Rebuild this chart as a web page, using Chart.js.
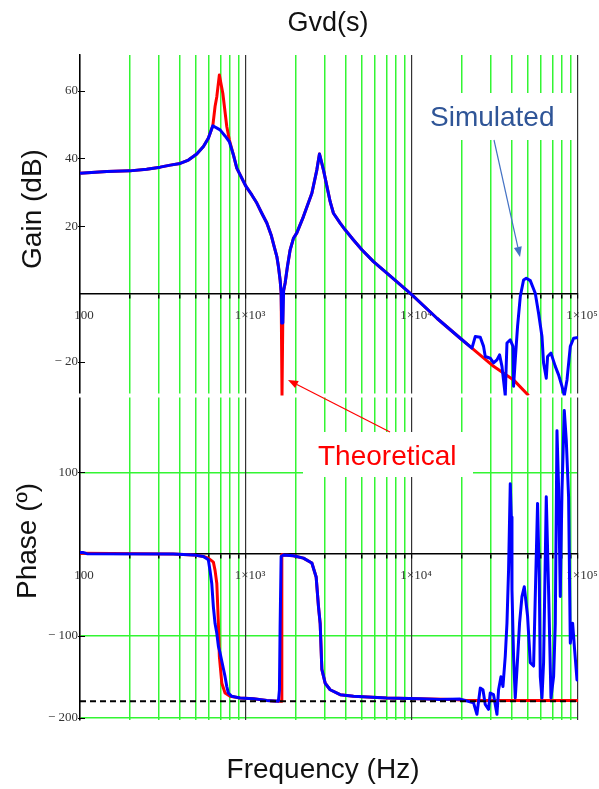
<!DOCTYPE html>
<html><head><meta charset="utf-8">
<script src="https://cdn.jsdelivr.net/npm/chart.js@4.4.1/dist/chart.umd.min.js"></script>
<style>html,body{margin:0;padding:0;background:#fff;overflow:hidden}#wrap{position:absolute;left:0;top:0;width:599px;height:789px}</style>
</head><body><div id="wrap"><canvas id="c" width="599" height="789"></canvas></div>
<script>
// ---- tick definitions ----
const xTicks = [100,200,300,400,500,600,700,800,900,1000,2000,3000,4000,5000,6000,7000,8000,9000,10000,20000,30000,40000,50000,60000,70000,80000,90000,100000];
const xTickLabels = ['100','','','','','','','','','1×10³','','','','','','','','','1×10⁴','','','','','','','','','1×10⁵'];
const gainTicks = [-20,20,40,60];
const phaseTicks = [-200,-100,100];

// ---- Gain, theoretical ----
const theoGainHz = [100,145,200,252,304,350,401,450,505,554,593,631,651,667,691,725,766,794,840,880,1000,1084,1162,1245,1335,1417,1477,1534,1568,1605,1628,1648,1655,1672,1721,1777,1845,1931,2024,2218,2493,2672,2770,2928,3214,3364,3692,3956,4441,4989,5861,7059,8490,10000,14130,19520,22970,30990,40910,50380];
const theoGainDb = [35.6,36.1,36.3,36.8,37.4,38.0,38.5,39.5,41.3,43.5,45.9,49.6,55.3,58.2,64.6,59.2,49.4,45.4,41,37.1,31.7,29.2,26.8,23.8,20.9,17.4,14,11,8.1,4.1,0.3,-30,-30,0,3.2,8.1,13,16.4,18,22.8,29.7,36.6,41.3,36.6,27.2,23.8,20.9,18.9,15.9,13,9.5,6.1,2.7,-0.3,-7.2,-13.1,-16,-21.4,-25.4,-30];

// ---- Gain, simulated ----
const simGainHz = [100,145,200,252,304,350,401,450,505,554,593,631,698,748,794,840,880,1000,1084,1162,1245,1335,1417,1477,1534,1568,1605,1628,1640,1667,1685,1721,1777,1845,1931,2024,2218,2493,2672,2770,2928,3214,3364,3692,3956,4441,4989,5861,7059,8490,10000,14130,19520,22970,24040,25780,26980,27620,29600,30990,32490,33690,34830,36460,37330,39080,40580,40910,41880,43240,44900,46990,48790,51590,55280,57870,60670,62030,64400,65570,68740,72980,76400,80090,82680,85840,89870,94080,100000];
const simGainDb = [35.6,36.1,36.3,36.8,37.4,38.0,38.5,39.5,41.3,43.5,45.9,49.6,48.4,46.6,44.9,41,37.1,31.7,29.2,26.8,23.8,20.9,17.4,14,11,8.1,4.1,0.5,-8.6,-8.6,1,3.2,8.1,13,16.4,18,22.8,29.7,36.6,41.3,36.6,27.2,23.8,20.9,18.9,15.9,13,9.5,6.1,2.7,-0.3,-7.2,-13.1,-16,-12.6,-12.8,-15.5,-18.5,-19,-20.4,-19.5,-18,-21.4,-30,-14.5,-13.6,-15.5,-27.3,-19.5,-9.6,-0.8,4.1,4.6,3.9,0.2,-5.7,-12.6,-20.4,-24.9,-18.5,-17.5,-21.4,-23.9,-27.3,-30,-25.4,-15.5,-13.1,-12.9];

// ---- Phase, theoretical ----
const theoPhaseHz = [100,365,482,554,593,636,651,667,682,691,715,748,802,921,1108,1335,1568,1640,1644,1681,1931,2218,2493,2646,2732,2798,2864,2999,3214,3692,4441,7059,11210,17790,21420,100000];
const theoPhaseDeg = [1,0,-1,-3,-5,-9.8,-20,-36,-85,-125,-158,-170,-174,-176,-177,-179,-180,-180,-0.5,-1,-2,-5,-11,-28,-64,-85,-141,-158,-166,-172,-174,-176,-177,-178,-179,-179];

// ---- Phase, simulated ----
const simPhaseHz = [100,104,110,365,482,554,593,607,622,636,651,667,682,698,725,748,766,783,821,921,1108,1335,1568,1590,1605,1628,1681,1931,2218,2493,2646,2732,2798,2864,2999,3214,3692,4441,7059,11210,14790,19520,23480,24610,25780,26760,27620,28910,29600,30990,32490,33230,34350,35310,36460,37330,38170,39080,39630,40020,40910,41880,42890,44460,45960,47460,49680,51590,54010,55280,57070,58430,59260,60670,62030,64400,66490,68740,71290,72980,74700,76400,78200,80090,82680,85000,87760,89870,92800,95400,98630,100000];
const simPhaseDeg = [2,2,0.5,0,-1,-3,-7,-20,-36,-64.6,-85,-97,-113,-121,-137,-150,-162,-170,-174,-176,-177,-179,-180,-166,-89,-3,-1,-2,-5,-11,-28,-64,-85,-141,-158,-166,-172,-174,-176,-177,-178,-177.4,-182,-196,-164,-166,-184,-190,-170,-172,-196,-166,-150,-162,-125,-84.5,-19.5,86,45.5,-44,-125,-176,-141,-84.5,-52,-40,-76,-133,-137,-52,62,-28,-150,-176,-133,70,-44,-176,-150,-85,151,82,-52,78,175.6,139,70,-109,-84.5,-117,-154,-141];

// ---- reference line ----
const refHz = [100,100000];
const refDeg = [-180,-180];

const pts = (xs, ys) => xs.map((x, i) => ({x: x, y: ys[i]}));
const GREEN = '#33f533';
const SERIF = "'Liberation Serif','Times New Roman',serif";
const SANS = "'Liberation Sans',Arial,sans-serif";

function arrow(ctx, x1, y1, x2, y2, color) {
  const a = Math.atan2(y2 - y1, x2 - x1);
  const L = 10, W = 4;
  ctx.save();
  ctx.strokeStyle = color; ctx.fillStyle = color; ctx.lineWidth = 1.2;
  ctx.beginPath(); ctx.moveTo(x1, y1);
  ctx.lineTo(x2 - L * Math.cos(a), y2 - L * Math.sin(a)); ctx.stroke();
  ctx.beginPath();
  ctx.moveTo(x2, y2);
  ctx.lineTo(x2 - L * Math.cos(a) + W * Math.sin(a), y2 - L * Math.sin(a) - W * Math.cos(a));
  ctx.lineTo(x2 - L * Math.cos(a) - W * Math.sin(a), y2 - L * Math.sin(a) + W * Math.cos(a));
  ctx.closePath(); ctx.fill();
  ctx.restore();
}

const decor = {
  id: 'decor',
  beforeDatasetsDraw(chart) {
    const ctx = chart.ctx, ca = chart.chartArea;
    ctx.save();
    ctx.fillStyle = '#fff';
    // gap between the two panels
    const yb = chart.scales.y.bottom;
    ctx.fillRect(ca.left - 6, yb - 2, ca.right - ca.left + 12, 4);
    // annotation boxes
    ctx.fillRect(416, 93, 158, 47);
    ctx.fillRect(303, 432, 170, 45);
    // small y tick marks
    ctx.strokeStyle = '#000'; ctx.lineWidth = 1;
    for (const id of ['y', 'y2']) {
      const s = chart.scales[id];
      s.ticks.forEach(t => {
        const py = Math.round(s.getPixelForValue(t.value)) + 0.5;
        ctx.beginPath(); ctx.moveTo(ca.left - 2, py); ctx.lineTo(ca.left + 5, py); ctx.stroke();
      });
    }
    ctx.restore();
  },
  afterDatasetsDraw(chart) {
    const ctx = chart.ctx;
    ctx.save();
    ctx.textBaseline = 'alphabetic';
    ctx.font = '28px ' + SANS;
    ctx.fillStyle = '#2f5597';
    ctx.textAlign = 'left';
    ctx.fillText('Simulated', 430, 126);
    ctx.fillStyle = '#ff0000';
    ctx.fillText('Theoretical', 318, 465);
    arrow(ctx, 494, 140, 520, 257, '#4472c4');
    arrow(ctx, 390, 432, 288, 380, '#ff0000');
    // titles
    ctx.fillStyle = '#111';
    ctx.textAlign = 'center';
    ctx.font = '27px ' + SANS;
    ctx.fillText('Gvd(s)', 328, 31);
    ctx.font = '28px ' + SANS;
    ctx.fillText('Frequency (Hz)', 323, 778);
    ctx.textBaseline = 'middle';
    ctx.save(); ctx.translate(33, 209); ctx.rotate(-Math.PI / 2); ctx.fillText('Gain (dB)', 0, 0); ctx.restore();
    ctx.save(); ctx.translate(28, 541); ctx.rotate(-Math.PI / 2); ctx.fillText('Phase (º)', 0, 0); ctx.restore();
    ctx.restore();
  }
};

const xCommon = (posId, onArea) => ({
  type: 'logarithmic', min: 100, max: 100000,
  position: {[posId]: 0},
  afterBuildTicks: s => { s.ticks = xTicks.map(v => ({value: v})); },
  afterFit: s => { s.paddingLeft = 0; s.paddingRight = 0; },
  ticks: { autoSkip: false, maxRotation: 0, minRotation: 0, padding: 10, labelOffset: 4,
    color: '#333', font: {family: SERIF, size: 13},
    callback: (v, i) => xTickLabels[i] },
  grid: { drawOnChartArea: onArea, drawTicks: true, tickLength: 4, tickColor: '#000',
    lineWidth: c => (xTickLabels[c.index] ? 1.2 : 1.5),
    color: c => (xTickLabels[c.index] ? '#333' : GREEN) },
  border: { display: true, color: '#000', width: 1.5 }
});

const yCommon = (ticksArr, min, max, weight, gridOn) => ({
  type: 'linear', position: 'left', stack: 'bode', stackWeight: weight,
  min: min, max: max,
  afterBuildTicks: s => { s.ticks = ticksArr.map(v => ({value: v})); },
  afterFit: s => { s.width = 80; },
  ticks: { padding: 2, color: '#333', font: {family: SERIF, size: 13},
    callback: v => (v < 0 ? '− ' + Math.abs(v) : String(v)) },
  grid: { display: gridOn, drawTicks: false, color: GREEN, lineWidth: 1.5 },
  border: { display: true, color: '#000', width: 1.5 }
});

new Chart(document.getElementById('c'), {
  type: 'line',
  data: {
    datasets: [
      {label: 'ref', data: pts(refHz, refDeg), xAxisID: 'x2', yAxisID: 'y2', borderColor: '#000', borderWidth: 2, borderDash: [6, 4], pointRadius: 0, order: 0},
      {label: 'Simulated gain', data: pts(simGainHz, simGainDb), xAxisID: 'x', yAxisID: 'y', borderColor: '#0000ff', borderWidth: 3, pointRadius: 0, order: 1},
      {label: 'Simulated phase', data: pts(simPhaseHz, simPhaseDeg), xAxisID: 'x2', yAxisID: 'y2', borderColor: '#0000ff', borderWidth: 3, pointRadius: 0, order: 1},
      {label: 'Theoretical gain', data: pts(theoGainHz, theoGainDb), xAxisID: 'x', yAxisID: 'y', borderColor: '#ff0000', borderWidth: 3, pointRadius: 0, order: 2},
      {label: 'Theoretical phase', data: pts(theoPhaseHz, theoPhaseDeg), xAxisID: 'x2', yAxisID: 'y2', borderColor: '#ff0000', borderWidth: 3, pointRadius: 0, order: 2}
    ]
  },
  options: {
    responsive: false, devicePixelRatio: 1, animation: false,
    layout: { padding: {left: 0, right: 21, top: 55, bottom: 69} },
    plugins: { legend: {display: false}, tooltip: {enabled: false}, title: {display: false} },
    elements: { line: {tension: 0, borderJoinStyle: 'round'} },
    scales: {
      y2: yCommon(phaseTicks, -203, 194, 324.5, true),
      y: yCommon(gainTicks, -30, 70.5, 340.5, false),
      x: xCommon('y', true),
      x2: xCommon('y2', false)
    }
  },
  plugins: [decor]
});
</script></body></html>
